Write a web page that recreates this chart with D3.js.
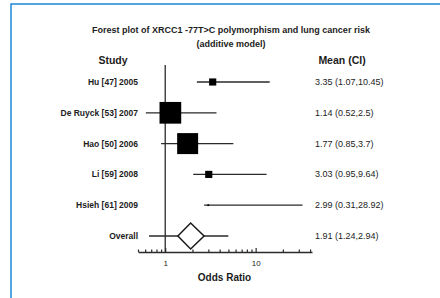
<!DOCTYPE html>
<html>
<head>
<meta charset="utf-8">
<script src="https://cdn.jsdelivr.net/npm/d3@7"></script>
<style>
  body { margin: 0; background: #fff; }
  svg text { font-family: "Liberation Sans", Arial, sans-serif; fill: #1c1c1c; }
</style>
</head>
<body>
<svg id="chart" width="440" height="298"></svg>
<script>
// studies and their labels
var studies = ["Hu [47] 2005", "De Ruyck [53] 2007", "Hao [50] 2006", "Li [59] 2008", "Hsieh [61] 2009"];
var ciText = ["3.35 (1.07,10.45)", "1.14 (0.52,2.5)", "1.77 (0.85,3.7)", "3.03 (0.95,9.64)", "2.99 (0.31,28.92)"];
var means = [3.35, 1.14, 1.77, 3.03, 2.99];
// whisker ends as drawn in the picture
var lows = [2.24, 0.61, 0.90, 2.04, 2.69];
var highs = [14.3, 3.69, 5.67, 13.2, 33];
var weights = [5, 46, 43, 5, 0.3];

var overallLabel = "Overall";
var overallText = "1.91 (1.24,2.94)";
var overallMean = 1.91;
var overallDiamond = [1.38, 2.69];
var overallLine = [0.662, 4.99];

var majorTicks = [1, 10];
var minorTicks = [0.5, 0.6, 0.7, 0.8, 0.9, 2, 3, 4, 5, 6, 7, 8, 9, 20, 30, 40];

var svg = d3.select('#chart');

// frame (top + left border)
svg.append('path')
  .attr('d', 'M11,298 V4 H440')
  .attr('fill', 'none')
  .attr('stroke', '#1f86d6')
  .attr('stroke-width', 1.5);

var x = d3.scaleLog().domain([0.5, 42]).range([138, 312]);
var rows = studies.concat([overallLabel]);
var y = d3.scalePoint().domain(rows).range([82, 236]);
var side = d3.scaleSqrt().domain([0, 46]).range([0, 21.7]);

// title
svg.append('text').attr('x', 231).attr('y', 32.5).attr('text-anchor', 'middle')
  .attr('font-size', 9).attr('font-weight', 'bold')
  .text('Forest plot of XRCC1 -77T>C polymorphism and lung cancer risk');
svg.append('text').attr('x', 231).attr('y', 46.5).attr('text-anchor', 'middle')
  .attr('font-size', 9).attr('font-weight', 'bold')
  .text('(additive model)');

svg.append('text').attr('x', 113).attr('y', 63.5).attr('text-anchor', 'middle')
  .attr('font-size', 10.5).attr('font-weight', 'bold').text('Study');
svg.append('text').attr('x', 342).attr('y', 63.5).attr('text-anchor', 'middle')
  .attr('font-size', 10.5).attr('font-weight', 'bold').text('Mean (CI)');

// null line
svg.append('line')
  .attr('x1', x(1)).attr('x2', x(1))
  .attr('y1', 65).attr('y2', 252)
  .attr('stroke', '#2a2a2a').attr('stroke-width', 1.3);

// row labels
svg.selectAll('.lab').data(rows).enter().append('text')
  .attr('class', 'lab')
  .attr('x', 138).attr('y', function(d) { return y(d) + 3; })
  .attr('text-anchor', 'end')
  .attr('font-size', 8.5).attr('font-weight', 'bold')
  .text(function(d) { return d; });

svg.selectAll('.ci').data(ciText.concat([overallText])).enter().append('text')
  .attr('class', 'ci')
  .attr('x', 315).attr('y', function(d, i) { return y(rows[i]) + 3; })
  .attr('font-size', 9)
  .text(function(d) { return d; });

// whiskers
svg.selectAll('.whisker').data(studies).enter().append('line')
  .attr('class', 'whisker')
  .attr('x1', function(d, i) { return x(lows[i]); })
  .attr('x2', function(d, i) { return x(highs[i]); })
  .attr('y1', function(d) { return y(d); })
  .attr('y2', function(d) { return y(d); })
  .attr('stroke', '#2a2a2a').attr('stroke-width', 1.3);

// boxes
svg.selectAll('.box').data(studies).enter().append('rect')
  .attr('class', 'box')
  .attr('x', function(d, i) { return x(means[i]) - side(weights[i]) / 2; })
  .attr('y', function(d, i) { return y(d) - side(weights[i]) / 2; })
  .attr('width', function(d, i) { return side(weights[i]); })
  .attr('height', function(d, i) { return side(weights[i]); })
  .attr('fill', '#000');

// overall
var oy = y(overallLabel);
svg.append('line')
  .attr('x1', x(overallLine[0])).attr('x2', x(overallLine[1]))
  .attr('y1', oy).attr('y2', oy)
  .attr('stroke', '#2a2a2a').attr('stroke-width', 1.3);
svg.append('path')
  .attr('d', 'M' + x(overallDiamond[0]) + ',' + oy +
    ' L' + x(overallMean) + ',' + (oy - 13) +
    ' L' + x(overallDiamond[1]) + ',' + oy +
    ' L' + x(overallMean) + ',' + (oy + 13) + 'Z')
  .attr('fill', '#fff').attr('stroke', '#1a1a1a').attr('stroke-width', 1.5);

// axis: minor ticks point up, no labels
var ax = svg.append('g').attr('transform', 'translate(0,252)');
ax.call(d3.axisBottom(x).tickValues(minorTicks).tickSizeInner(-2.5).tickSizeOuter(0).tickFormat(''));
ax.select('.domain').attr('stroke', '#2a2a2a').attr('stroke-width', 1.3);
ax.selectAll('.tick line').attr('stroke', '#2a2a2a').attr('stroke-width', 1.2);

// major ticks with labels
var ax2 = svg.append('g').attr('transform', 'translate(0,252)');
ax2.call(d3.axisBottom(x).tickValues(majorTicks).tickSize(0).tickPadding(8).tickFormat(d3.format('d')));
ax2.select('.domain').remove();
ax2.selectAll('.tick line').remove();
ax2.selectAll('.tick').append('line')
  .attr('y1', 0).attr('y2', -4)
  .attr('stroke', '#2a2a2a').attr('stroke-width', 1.2);
ax2.selectAll('.tick text').attr('font-size', 8).attr('fill', '#1c1c1c')
  .attr('font-family', '"Liberation Sans", Arial, sans-serif');

svg.append('text').attr('x', 224.5).attr('y', 280.5).attr('text-anchor', 'middle')
  .attr('font-size', 10).attr('font-weight', 'bold').text('Odds Ratio');
</script>
</body>
</html>
